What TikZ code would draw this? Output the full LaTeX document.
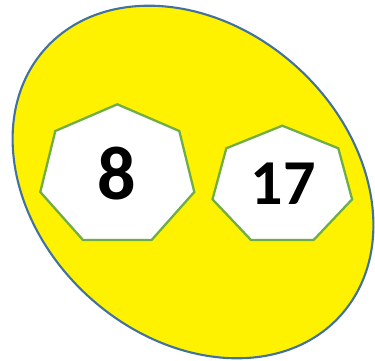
\documentclass[tikz,border=0pt]{standalone}
\usepackage{fontspec}
\setmainfont{Carlito}
\definecolor{ellborder}{HTML}{41719C}
\definecolor{heptborder}{HTML}{70AD47}
\begin{document}
\begin{tikzpicture}[x=1pt,y=-1pt,
  blob/.style={draw=ellborder,line width=2.1pt,fill=yellow},
  hepta/.style={draw=heptborder,line width=2.3pt,fill=white,line join=miter},
  numtext/.style={font=\bfseries,text=black,inner sep=0pt}]
\useasboundingbox (0,0) rectangle (375,360);
\coordinate (c) at (193,182);
\draw[blob,rotate around={-42.3:(c)}] (c) ellipse [x radius=199, y radius=155];
% left heptagon
\draw[hepta] (117.3,104.3) -- (179.3,131) -- (194.3,192) -- (151.6,240)
  -- (83,240) -- (40.3,192) -- (55.3,131) -- cycle;
% right heptagon
\draw[hepta] (282.3,125.7) -- (338.3,148.3) -- (352.1,199.3) -- (313.6,240)
  -- (251,240) -- (212.5,199.3) -- (226.3,148.3) -- cycle;
\node[numtext,font=\fontsize{76}{80}\selectfont\bfseries] (eight) at (117,174) {8};
\node[numtext,font=\fontsize{64}{68}\selectfont\bfseries] (seventeen) at (283,184) {17};
\end{tikzpicture}
\end{document}
